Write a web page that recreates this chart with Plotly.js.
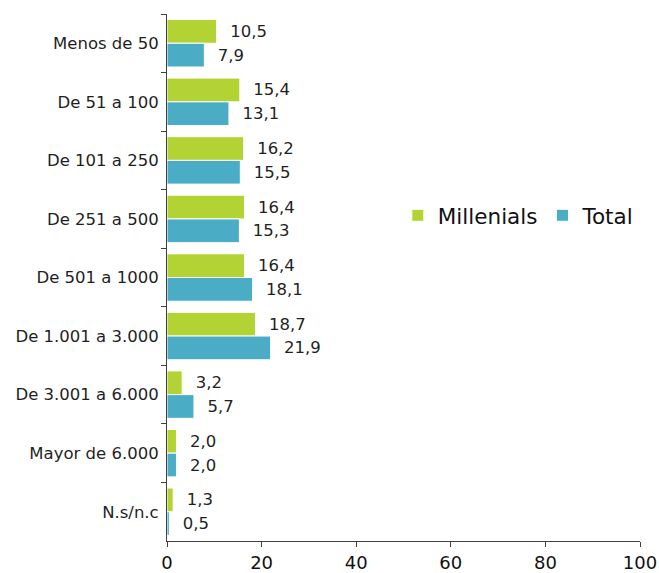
<!DOCTYPE html>
<html>
<head>
<meta charset="utf-8">
<script src="https://cdn.plot.ly/plotly-3.0.1.min.js"></script>
<style>html,body{margin:0;padding:0;background:#fff;}#chart{width:659px;height:573px;}</style>
</head>
<body>
<div id="chart"></div>
<script>
const categories = ["Menos de 50","De 51 a 100","De 101 a 250","De 251 a 500","De 501 a 1000","De 1.001 a 3.000","De 3.001 a 6.000","Mayor de 6.000","N.s/n.c"];
const millenials = [10.5,15.4,16.2,16.4,16.4,18.7,3.2,2.0,1.3];
const total = [7.9,13.1,15.5,15.3,18.1,21.9,5.7,2.0,0.5];
const seriesNames = ["Millenials","Total"];
const xTicks = [0,20,40,60,80,100];

function labels(arr){ return arr.map(v => "\u00a0\u00a0" + v.toFixed(1).replace(".", ",")); }

const font = "Verdana, 'DejaVu Sans', sans-serif";
const traces = [
  {type:"bar", orientation:"h", name:seriesNames[0], y:categories, x:millenials,
   text:labels(millenials), textposition:"outside", cliponaxis:false,
   textfont:{family:font,size:16.5,color:"#1f1f1f"},
   marker:{color:"#b3d234", line:{color:"#ffffff",width:1}}},
  {type:"bar", orientation:"h", name:seriesNames[1], y:categories, x:total,
   text:labels(total), textposition:"outside", cliponaxis:false,
   textfont:{family:font,size:16.5,color:"#1f1f1f"},
   marker:{color:"#4bacc6", line:{color:"#ffffff",width:1}}}
];
const layout = {
  width:659, height:573,
  margin:{l:167,r:19,t:14,b:32},
  paper_bgcolor:"#fff", plot_bgcolor:"#fff",
  barmode:"group", bargap:0.19, bargroupgap:0,
  font:{family:font,color:"#1f1f1f"},
  showlegend:true,
  legend:{orientation:"h", x:0.488, y:0.618, xanchor:"left", yanchor:"middle", traceorder:"normal",
          font:{family:font,size:21.5,color:"#111111"}, itemwidth:30, bgcolor:"rgba(0,0,0,0)"},
  xaxis:{range:[0,100], tickvals:xTicks, ticktext:xTicks.map(String), showgrid:false, zeroline:false,
         showline:true, linecolor:"#404040", linewidth:1, ticks:"outside", ticklen:5, tickcolor:"#404040",
         tickfont:{family:font,size:18,color:"#111111"}, fixedrange:true},
  yaxis:{autorange:"reversed", type:"category", showgrid:false, zeroline:false, showline:true,
         linecolor:"#404040", linewidth:1, ticks:"outside", ticklen:5, tickcolor:"#404040",
         tickson:"boundaries", tickfont:{family:font,size:16.5,color:"#1f1f1f"}, ticklabelstandoff:4}
};
Plotly.newPlot("chart", traces, layout, {displayModeBar:false, staticPlot:true});
</script>
</body>
</html>
